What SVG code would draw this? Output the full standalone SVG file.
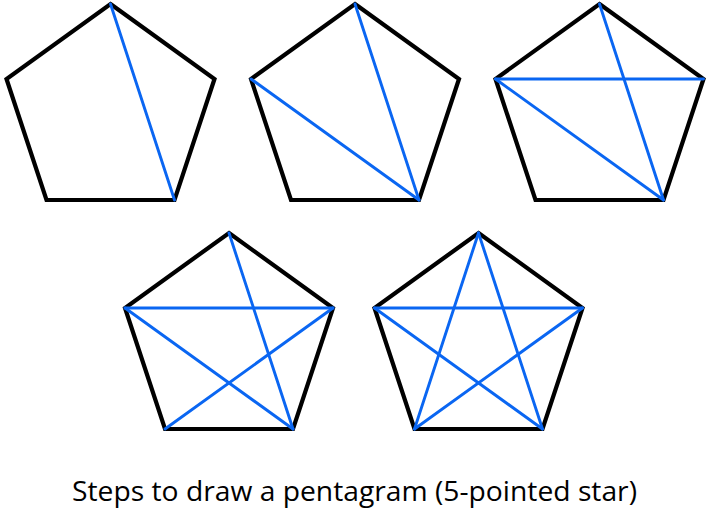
<svg xmlns="http://www.w3.org/2000/svg" xmlns:xlink="http://www.w3.org/1999/xlink" width="708" height="509" viewBox="0 0 708 509">
<style>
.pent{fill:none;stroke:#000;stroke-width:4.2;stroke-linejoin:miter}
.diag{stroke:#0a66f2;stroke-width:2.9;stroke-linecap:round}
.cap{font-family:"Open Sans","Liberation Sans",sans-serif;font-size:27px;fill:#000}
</style>
<defs>
<polygon id="p" class="pent" points="0,0 104,75 64,196 -64,196 -104,75"/>
<line id="d1" class="diag" x1="0" y1="0" x2="64" y2="196"/>
<line id="d2" class="diag" x1="-104" y1="75" x2="64" y2="196"/>
<line id="d3" class="diag" x1="-104" y1="75" x2="104" y2="75"/>
<line id="d4" class="diag" x1="104" y1="75" x2="-64" y2="196"/>
<line id="d5" class="diag" x1="0" y1="0" x2="-64" y2="196"/>
</defs>
<g id="step1" transform="translate(110.5,4)">
<use xlink:href="#p"/><use xlink:href="#d1"/>
</g>
<g id="step2" transform="translate(355,4)">
<use xlink:href="#p"/><use xlink:href="#d1"/><use xlink:href="#d2"/>
</g>
<g id="step3" transform="translate(599.5,4)">
<use xlink:href="#p"/><use xlink:href="#d1"/><use xlink:href="#d2"/><use xlink:href="#d3"/>
</g>
<g id="step4" transform="translate(229,233)">
<use xlink:href="#p"/><use xlink:href="#d1"/><use xlink:href="#d2"/><use xlink:href="#d3"/><use xlink:href="#d4"/>
</g>
<g id="step5" transform="translate(478.5,233)">
<use xlink:href="#p"/><use xlink:href="#d1"/><use xlink:href="#d2"/><use xlink:href="#d3"/><use xlink:href="#d4"/><use xlink:href="#d5"/>
</g>
<g id="connectors"/>
<text id="caption" class="cap" x="72" y="501" textLength="565" lengthAdjust="spacingAndGlyphs">Steps to draw a pentagram (5-pointed star)</text>
</svg>
